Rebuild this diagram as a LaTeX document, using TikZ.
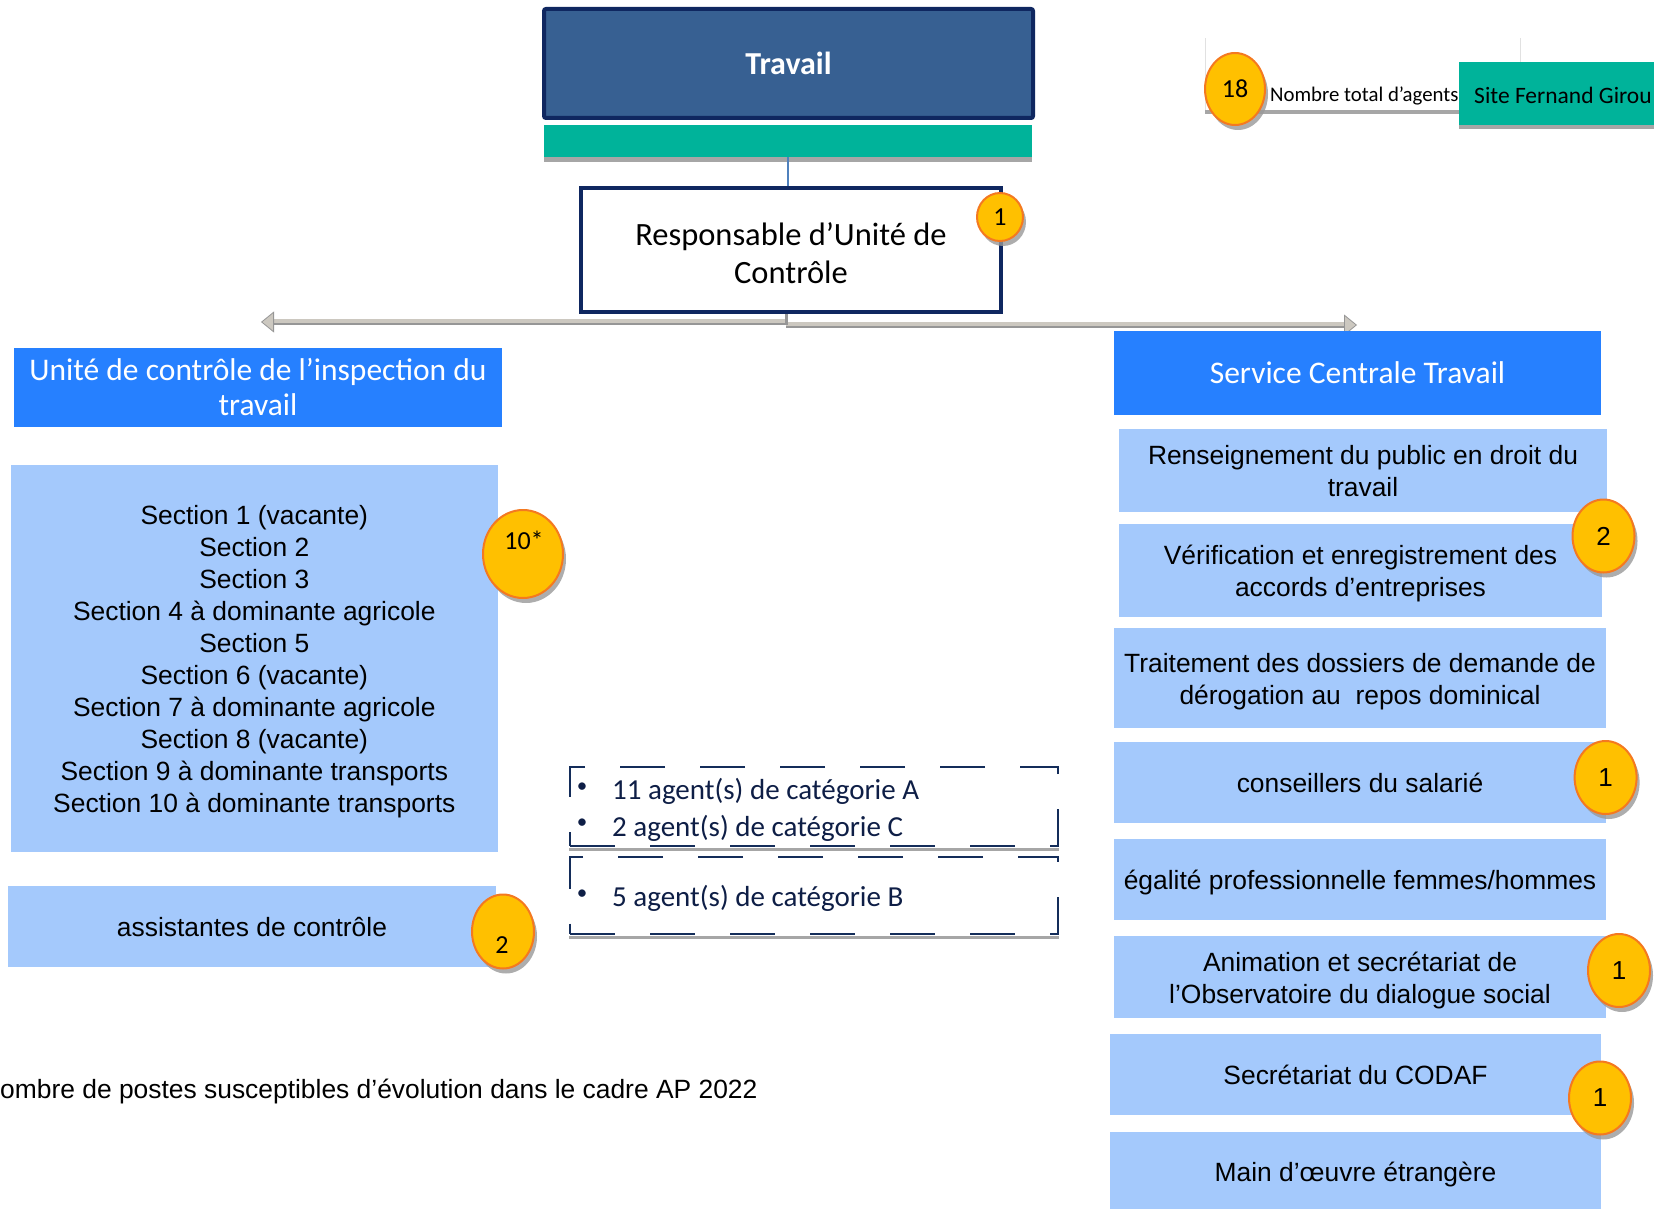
\documentclass[tikz,border=0pt]{standalone}
\usepackage{fontspec}
\setmainfont{Liberation Sans}
\newfontfamily\calib{Carlito}
\usetikzlibrary{shapes.geometric,shadows,arrows.meta}
\definecolor{navy}{RGB}{15,39,96}
\definecolor{steel}{RGB}{55,96,146}
\definecolor{tealbar}{RGB}{0,179,154}
\definecolor{bblue}{RGB}{38,128,255}
\definecolor{lblue}{RGB}{164,201,252}
\definecolor{bgold}{RGB}{255,192,0}
\definecolor{borange}{RGB}{244,121,32}
\definecolor{dnavy}{RGB}{20,45,90}
\definecolor{txnavy}{RGB}{14,30,70}
\definecolor{shgray}{RGB}{166,166,166}
\definecolor{lgray}{RGB}{204,200,192}
\definecolor{dgray}{RGB}{150,150,150}
\definecolor{connblue}{RGB}{79,129,189}
\definecolor{faintgray}{RGB}{225,225,225}
\newcommand{\arialsz}{\fontsize{26.4}{32}\selectfont}
\newcommand{\calsz}{\calib\fontsize{31.5}{37}\selectfont}
\newcommand{\ts}{\rule{0pt}{1.0em}}
\newcommand{\bs}{\rule[-0.212em]{0pt}{0.212em}}
\begin{document}
\begin{tikzpicture}[x=1pt,y=-1pt,
  navybox/.style={draw=navy, line width=4pt, rectangle, inner sep=0pt, align=center},
  lbox/.style={fill=lblue, rectangle, inner sep=0pt, align=center, font=\arialsz},
  bbox/.style={fill=bblue, rectangle, inner sep=0pt, align=center, text=white, font=\calsz},
  badge/.style={ellipse, draw=borange, line width=2pt, fill=bgold, inner sep=0pt,
     drop shadow={shadow xshift=3pt, shadow yshift=-5pt, fill=black!40, opacity=0.8}},
  rbadge/.style={badge, minimum width=62pt, minimum height=73pt, font=\fontsize{26}{30}\selectfont},
  cbadgetext/.style={inner sep=0pt, font=\calib\fontsize{26}{30}\selectfont},
  dbox/.style={draw=dnavy, line width=2pt, dash pattern=on 45pt off 35pt, rectangle, inner sep=0pt},
  dtext/.style={inner sep=0pt, text=txnavy, font=\calib\fontsize{29}{36}\selectfont},
  dbullet/.style={inner sep=0pt, text=txnavy, font=\calib\fontsize{21}{24}\selectfont},
  gline/.style={line width=6pt, color=lgray},
  gdark/.style={line width=2.5pt, color=dgray},
  faint/.style={draw=faintgray, line width=1pt}]
\useasboundingbox (0,0) rectangle (1654,1209);
\clip (0,0) rectangle (1654,1209);

% ---------- top right legend ----------
\draw[faint] (1205,38) -- (1205,112);
\draw[faint] (1520,38) -- (1520,62);
\draw[shgray, line width=4pt] (1205,112) -- (1462,112);
\fill[shgray] (1459,66) rectangle (1660,129);
\node[fill=tealbar, anchor=north west, minimum width=220pt, minimum height=63pt, inner sep=0pt] (site) at (1459,62) {};
\node[anchor=west, inner sep=0pt, font=\calib\fontsize{23.5}{28}\selectfont] (sitet) at (1474,95) {Site Fernand Girou};
\node[badge, minimum width=60pt, minimum height=72pt, font=\calib\fontsize{26}{30}\selectfont] (b18) at (1235,89) {18};
\node[anchor=west, inner sep=0pt, font=\calib\fontsize{20.8}{24}\selectfont] (nta) at (1270,96) {Nombre total d’agents};

% ---------- top ----------
\node[navybox, fill=steel, rounded corners=2pt, minimum width=489pt, minimum height=109pt,
      text=white, font=\calib\bfseries\fontsize{32}{38}\selectfont] (trav) at (788.5,63.5) {Travail};
\fill[shgray] (544,156) rectangle (1032,162);
\node[fill=tealbar, minimum width=488pt, minimum height=32pt, inner sep=0pt] (bar) at (788,141) {};
\node[navybox, fill=white, minimum width=420pt, minimum height=124pt,
      font=\calib\fontsize{32.5}{38}\selectfont] (resp) at (791,250) {\rule{0pt}{29pt}Responsable d’Unité de\\Contrôle};
\draw[connblue, line width=2pt] (bar.south) -- (bar.south |- resp.north);
\node[badge, minimum width=46pt, minimum height=48pt, font=\calib\fontsize{26}{30}\selectfont] (bresp) at (1000,217) {1};

% ---------- connectors ----------
\coordinate (hub) at (786,322);
\coordinate (hubr) at (786,325);
\coordinate (ltip) at (261,322);
\coordinate (rtip) at (1357,325);
\draw[gline, -{Triangle[length=13pt,width=21pt,line width=0.8pt,fill=lgray,color=dgray]}] (hub) -- (ltip);
\draw[gline, -{Triangle[length=13pt,width=21pt,line width=0.8pt,fill=lgray,color=dgray]}] (hubr) -- (rtip);
\draw[gdark] ([yshift=-2pt]hub) -- ([yshift=-2pt,xshift=13pt]ltip);
\draw[gdark] ([yshift=-2pt]hubr) -- ([yshift=-2pt,xshift=-13pt]rtip);
\draw[dgray, line width=3pt] (resp.south -| hub) -- (hubr);

% ---------- left column ----------
\node[bbox, minimum width=488pt, minimum height=79pt, font=\calib\fontsize{31.5}{35}\selectfont] (lhead) at (258,387.5)
  {Unité de contrôle de l’inspection du\\travail};
\node[lbox, minimum width=487.5pt, minimum height=387pt] (sect) at (254.3,658.5)
  {\ts Section 1 (vacante)\\Section 2\\Section 3\\Section 4 à dominante agricole\\Section 5\\Section 6 (vacante)\\Section 7 à dominante agricole\\Section 8 (vacante)\\Section 9 à dominante transports\\Section 10 à dominante transports\bs};
\node[badge, minimum width=80pt, minimum height=88pt] (b10) at (523,554) {};
\node[cbadgetext] (b10t) at (524,540) {10*};
\node[lbox, minimum width=488pt, minimum height=81pt] (assist) at (252,926.5) {\ts assistantes de contrôle\bs};
\node[badge, minimum width=62pt, minimum height=74pt] (bas) at (503,931.5) {};
\node[cbadgetext] (bast) at (502,945) {2};

% ---------- dashed boxes ----------
\node[dbox, minimum width=488pt, minimum height=79pt] (d1) at (814,806.5) {};
\draw[shgray, line width=3pt] ([yshift=-2.5pt]d1.south west) -- ([yshift=-2.5pt]d1.south east);
\node[dbox, minimum width=488pt, minimum height=77pt] (d2) at (814,895) {};
\draw[shgray, line width=3pt] ([yshift=-2.5pt]d2.south west) -- ([yshift=-2.5pt]d2.south east);
\node[dbullet] (a1b) at (582,788) {•};
\node[dtext, anchor=west] (a1) at (612,791.5) {11 agent(s) de catégorie A};
\node[dbullet] (a2b) at (582,823.5) {•};
\node[dtext, anchor=west] (a2) at (612,828) {2 agent(s) de catégorie C};
\node[dbullet] (a3b) at (582,894.5) {•};
\node[dtext, anchor=west] (a3) at (612,898) {5 agent(s) de catégorie B};

% ---------- right column ----------
\node[bbox, minimum width=487pt, minimum height=83.6pt] (serv) at (1357.5,373) {Service Centrale Travail};
\node[lbox, minimum width=488pt, minimum height=83pt] (r1) at (1363,470.5) {\ts Renseignement du public en droit du\\travail\bs};
\node[lbox, minimum width=483pt, minimum height=93pt] (r2) at (1360.5,570.5) {\ts Vérification et enregistrement des\\accords d’entreprises\bs};
\node[lbox, minimum width=492pt, minimum height=100pt] (r3) at (1360,678) {\ts Traitement des dossiers de demande de\\dérogation au\ \ repos dominical\bs};
\node[lbox, minimum width=492pt, minimum height=81.4pt] (r4) at (1360,782.3) {\ts conseillers du salarié\bs};
\node[lbox, minimum width=492pt, minimum height=81.4pt] (r5) at (1360,879.3) {\ts égalité professionnelle femmes/hommes\bs};
\node[lbox, minimum width=492pt, minimum height=82.3pt] (r6) at (1360,977) {\ts Animation et secrétariat de\\l’Observatoire du dialogue social\bs};
\node[lbox, minimum width=491pt, minimum height=81pt] (r7) at (1355.5,1074.5) {\ts Secrétariat du CODAF\bs};
\node[lbox, minimum width=491pt, minimum height=86pt] (r8) at (1355.5,1175) {Main d’œuvre étrangère\bs};
\node[rbadge] (br2) at (1603.5,536) {2};
\node[rbadge] (br4) at (1605.6,777.5) {1};
\node[rbadge] (br6) at (1619,970.5) {1};
\node[rbadge] (br7) at (1600,1098) {1};

% ---------- footnote ----------
\node[anchor=west, inner sep=0pt, font=\arialsz] (note) at (0,1092) {ombre de postes susceptibles d’évolution dans le cadre AP 2022};
\end{tikzpicture}
\end{document}
